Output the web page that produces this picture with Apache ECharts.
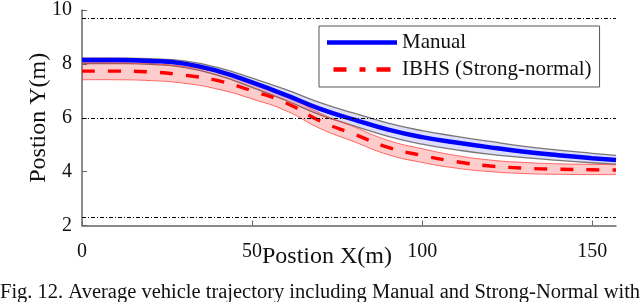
<!DOCTYPE html>
<html>
<head>
<meta charset="utf-8">
<script src="https://cdn.jsdelivr.net/npm/echarts@6/dist/echarts.min.js"></script>
<style>html,body{margin:0;padding:0;background:#fff;}#c{width:640px;height:302px;}</style>
</head>
<body>
<div id="c"></div>
<script>
// ---- data ----
var xPos = [0, 10, 20, 30, 40, 50, 60, 70, 80, 90, 100, 110, 120, 130, 140, 150, 157];
var manualMean  = [8.14, 8.14, 8.11, 8.01, 7.73, 7.31, 6.84, 6.33, 5.93, 5.56, 5.28, 5.08, 4.90, 4.74, 4.61, 4.50, 4.43];
var manualUpper = [8.21, 8.21, 8.19, 8.11, 7.86, 7.47, 7.04, 6.56, 6.17, 5.80, 5.52, 5.31, 5.12, 4.94, 4.80, 4.68, 4.60];
var manualLower = [8.01, 8.01, 7.98, 7.87, 7.57, 7.13, 6.64, 6.11, 5.70, 5.31, 5.02, 4.81, 4.64, 4.52, 4.42, 4.33, 4.28];
var ibhsMean  = [7.73, 7.73, 7.70, 7.58, 7.38, 7.00, 6.55, 5.88, 5.39, 4.90, 4.60, 4.37, 4.21, 4.13, 4.09, 4.07, 4.06];
var ibhsUpper = [8.04, 8.04, 8.01, 7.90, 7.68, 7.30, 6.84, 6.17, 5.66, 5.16, 4.85, 4.60, 4.43, 4.34, 4.29, 4.27, 4.26];
var ibhsLower = [7.41, 7.41, 7.38, 7.28, 7.06, 6.70, 6.26, 5.60, 5.11, 4.63, 4.34, 4.13, 4.00, 3.93, 3.90, 3.89, 3.89];
var laneLines = [9.7, 6, 2.32];
var seriesNames = ['Manual', 'IBHS (Strong-normal)'];
var xTitle = 'Postion X(m)';
var yTitle = 'Postion Y(m)';
var caption = 'Fig. 12. Average vehicle trajectory including Manual and Strong-Normal with IBHS';

function pairs(ys) { return xPos.map(function (x, i) { return [x, ys[i]]; }); }

// smooth path through pixel points (same control-point scheme as ECharts line smoothing)
function smoothSeg(pts, smooth, startWithMove) {
  var d = startWithMove ? 'M' + pts[0][0] + ',' + pts[0][1] : 'L' + pts[0][0] + ',' + pts[0][1];
  var n = pts.length;
  var cps = [];
  for (var i = 0; i < n; i++) {
    var p = pts[i];
    if (i === 0 || i === n - 1) { cps.push([p, p]); continue; }
    var pr = pts[i - 1], nx = pts[i + 1];
    var vx = nx[0] - pr[0], vy = nx[1] - pr[1];
    var l0 = Math.hypot(p[0] - pr[0], p[1] - pr[1]);
    var l1 = Math.hypot(nx[0] - p[0], nx[1] - p[1]);
    var r = l1 / (l0 + l1);
    cps.push([[p[0] - vx * smooth * (1 - r), p[1] - vy * smooth * (1 - r)],
              [p[0] + vx * smooth * r, p[1] + vy * smooth * r]]);
  }
  for (var j = 1; j < n; j++) {
    var c0 = cps[j - 1][1], c1 = cps[j][0], q = pts[j];
    d += 'C' + c0[0] + ',' + c0[1] + ',' + c1[0] + ',' + c1[1] + ',' + q[0] + ',' + q[1];
  }
  return d;
}

function bandSeries(name, up, lo, fill, edge, edgeW) {
  return {
    name: name, type: 'custom', silent: true, coordinateSystem: 'cartesian2d',
    data: [[xPos[0], lo[0], up[0]]],
    encode: { x: 0, y: [1, 2] },
    renderItem: function (params, api) {
      var upPts = xPos.map(function (x, i) { return api.coord([x, up[i]]); });
      var loPts = xPos.map(function (x, i) { return api.coord([x, lo[i]]); });
      var loRev = loPts.slice().reverse();
      var area = smoothSeg(upPts, 0.5, true) + smoothSeg(loRev, 0.5, false) + 'Z';
      return {
        type: 'group',
        children: [
          { type: 'path', shape: { pathData: area }, style: { fill: fill, stroke: null } },
          { type: 'path', shape: { pathData: smoothSeg(upPts, 0.5, true) }, style: { fill: null, stroke: edge, lineWidth: edgeW } },
          { type: 'path', shape: { pathData: smoothSeg(loPts, 0.5, true) }, style: { fill: null, stroke: edge, lineWidth: edgeW } }
        ]
      };
    }
  };
}

var FONT = 'Liberation Serif';
var chart = echarts.init(document.getElementById('c'), null, { renderer: 'canvas' });

chart.setOption({
  animation: false,
  backgroundColor: '#fff',
  grid: { left: 82, right: 24, top: 8, bottom: 76.5 },
  legend: {
    data: [
      { name: seriesNames[0], icon: 'path://M0,0H70V4.5H0Z' },
      { name: seriesNames[1], icon: 'path://M0,0H13V4.5H0Z M26,0H32V4.5H26Z M43,0H57V4.5H43Z' }
    ],
    orient: 'vertical',
    left: 319, top: 26,
    itemWidth: 70, itemHeight: 4.5, itemGap: 6,
    padding: [6, 8, 7, 8],
    borderColor: '#555', borderWidth: 1,
    backgroundColor: '#fff',
    textStyle: { fontFamily: FONT, fontSize: 21, color: '#111' }
  },
  xAxis: {
    type: 'value', min: 0, max: 157, interval: 50,
    name: xTitle, nameLocation: 'middle', nameGap: 19, nameMoveOverlap: false,
    nameTextStyle: { fontFamily: FONT, fontSize: 24, color: '#111', padding: [0, 44, 0, 0] },
    axisLine: { lineStyle: { color: '#666', width: 1.5 } },
    axisTick: { inside: true, length: 5, lineStyle: { color: '#666' } },
    axisLabel: { fontFamily: FONT, fontSize: 20, color: '#111', margin: 16, showMaxLabel: false },
    splitLine: { show: false }
  },
  yAxis: {
    type: 'value', min: 2, max: 10, interval: 2,
    name: yTitle, nameLocation: 'middle', nameGap: 31, nameRotate: 90, nameMoveOverlap: false,
    nameTextStyle: { fontFamily: FONT, fontSize: 24, color: '#111' },
    axisLine: { show: true, lineStyle: { color: '#666', width: 1.5 } },
    axisTick: { show: true, inside: true, length: 5, lineStyle: { color: '#666' } },
    axisLabel: { fontFamily: FONT, fontSize: 20, color: '#111', margin: 10 },
    splitLine: { show: false }
  },
  graphic: [{
    type: 'text', left: 0, top: 282,
    style: { text: caption, font: '20.5px "Liberation Serif"', fill: '#111' }
  }],
  series: [
    {
      name: 'lanes', type: 'line', symbol: 'none', silent: true, data: [],
      markLine: {
        silent: true, symbol: 'none', label: { show: false },
        lineStyle: { color: '#000', width: 1, type: [4, 2, 1, 2] },
        data: laneLines.map(function (v) { return { yAxis: v }; })
      }
    },
    bandSeries('mBand', manualUpper, manualLower, 'rgba(200,200,248,0.6)', '#777', 1.3),
    { name: seriesNames[0], type: 'line', smooth: true, symbol: 'none', data: pairs(manualMean),
      itemStyle: { color: '#0000ff' },
      lineStyle: { color: '#0000ff', width: 4.5 } },
    bandSeries('iBand', ibhsUpper, ibhsLower, 'rgba(255,0,0,0.2)', 'rgba(255,60,60,0.75)', 1),
    { name: seriesNames[1], type: 'line', smooth: true, symbol: 'none', data: pairs(ibhsMean),
      itemStyle: { color: '#ff0000' },
      lineStyle: { color: '#ff0000', width: 3.4, type: [13, 13] } }
  ]
});
</script>
</body>
</html>
